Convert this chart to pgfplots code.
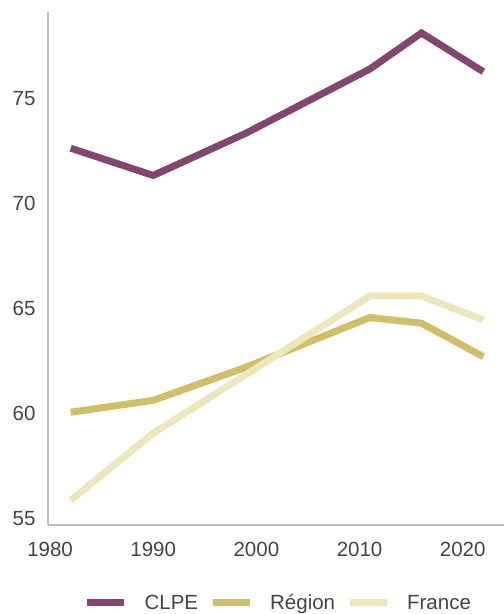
\documentclass[border=0pt]{standalone}
\usepackage{fontspec}
\setmainfont{Liberation Sans}
\usepackage{pgfplots}
\pgfplotsset{compat=1.18}
\definecolor{clpe}{HTML}{82476E}
\definecolor{region}{HTML}{CFBE6A}
\definecolor{france}{HTML}{EEE6BC}
\definecolor{axgray}{HTML}{BFBFBF}
\definecolor{txt}{HTML}{444444}
\begin{document}
\begin{tikzpicture}
\useasboundingbox (0pt,0pt) rectangle (504pt,614pt);
\begin{axis}[at={(48pt,89pt)}, anchor=south west, scale only axis,
  width=456pt, height=513pt,
  xmin=1979.8, xmax=2024, ymin=54.67, ymax=79.15,
  axis x line*=bottom, axis y line*=left,
  axis line style={axgray, line width=1.5pt},
  major tick length=0pt,
  xtick={1980,1990,2000,2010,2020}, ytick={55,60,65,70,75},
  /pgf/number format/set thousands separator={},
  /pgf/number format/assume math mode=true,
  tick label style={font=\fontsize{20.5}{24}\selectfont, text=txt},
  yticklabel style={xshift=-9pt},
  xticklabel style={yshift=-14pt},
  legend style={at={(0.505,-0.152)}, anchor=center, draw=none, fill=none,
    font=\fontsize{20.5}{24}\selectfont, text=txt,
    /tikz/every odd column/.append style={column sep=15pt},
    /tikz/every even column/.append style={column sep=9pt}},
  legend columns=3,
  legend image code/.code={\draw[#1, line width=7pt] (0pt,0pt) -- (37pt,0pt);},
  every axis plot/.append style={line width=7pt, line join=miter, mark=none},
]
\addplot[clpe] coordinates {(1982,72.65) (1990,71.35) (1999,73.37) (2011,76.43) (2016,78.15) (2022,76.3)};
\addlegendentry{CLPE}
\addplot[region] coordinates {(1982,60.05) (1990,60.62) (1999,62.2) (2011,64.57) (2016,64.3) (2022,62.7)};
\addlegendentry{Région}
\addplot[france] coordinates {(1982,55.85) (1990,59.05) (1999,61.85) (2011,65.6) (2016,65.6) (2022,64.45)};
\addlegendentry{France}
\end{axis}
\end{tikzpicture}
\end{document}
